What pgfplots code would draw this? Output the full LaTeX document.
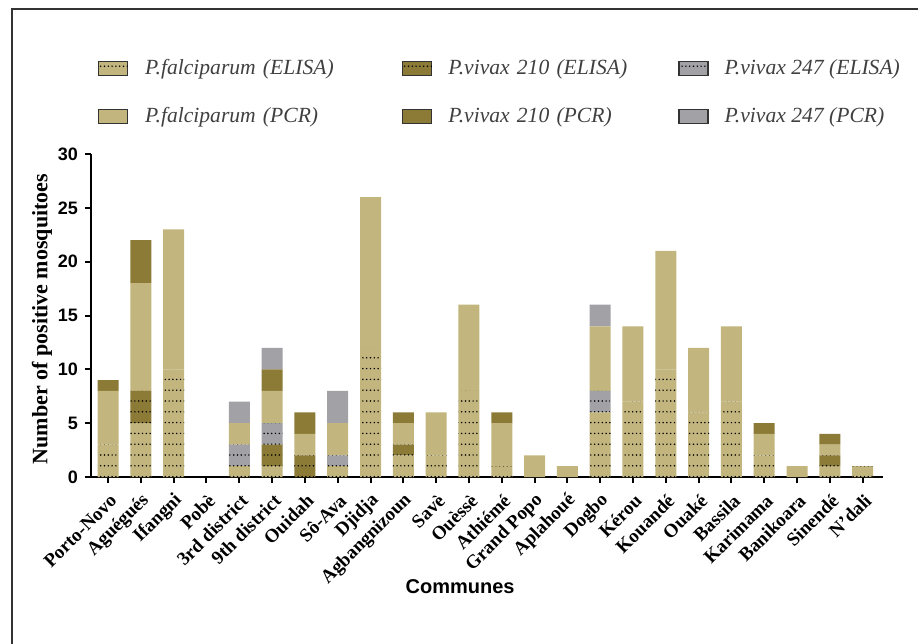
\documentclass[border=0pt]{standalone}
\usepackage{fontspec}
\setmainfont{Liberation Serif}
\setsansfont{Liberation Sans}
\usepackage{pgfplots}
\pgfplotsset{compat=1.18}
\usetikzlibrary{patterns}
\pgfdeclarepatternformonly{sparsedots}{\pgfqpoint{-0.5pt}{-0.5pt}}{\pgfqpoint{2.5pt}{5.9pt}}{\pgfqpoint{1.9pt}{5.4pt}}{\pgfpathcircle{\pgfqpoint{0.95pt}{2.7pt}}{0.42pt}\pgfusepath{fill}}
\definecolor{fcol}{RGB}{194,181,125}
\definecolor{v210}{RGB}{140,123,55}
\definecolor{v247}{RGB}{162,161,166}
\begin{document}
\begin{tikzpicture}
\path[use as bounding box] (0,0) rectangle (459pt,322pt);
\draw[line width=0.8pt, black!80] (6pt,0) -- (6pt,317.5pt) -- (459pt,317.5pt);
\begin{axis}[
  at={(45.5pt,83.5pt)}, anchor=south west,
  scale only axis, width=396pt, height=161.5pt,
  ybar stacked, bar width=0.64,
  xmin=-0.52, xmax=23.62, ymin=0, ymax=30,
  enlargelimits=false,
  axis x line*=bottom, axis y line*=left,
  axis line style={-, line width=1pt, black},
  tick style={black, line width=1pt},
  major tick length=3pt, tick align=outside,
  ytick={0,5,...,30},
  xtick={0,...,23},
  xticklabels={Porto-Novo, Aguégués, Ifangni, Pobè, 3rd district, 9th district, Ouidah, Sô-Ava, Djidja, Agbangnizoun, Savè, Ouèssè, Athiémé, Grand Popo, Aplahoué, Dogbo, Kérou, Kouandé, Ouaké, Bassila, Karimama, Banikoara, Sinendé, N'dali},
  xticklabel style={font=\bfseries\fontsize{9.5}{10}\selectfont, xshift=3.5pt, yshift=-6.5pt, rotate=45, anchor=east, inner sep=1pt},
  yticklabel style={font=\sffamily\bfseries\fontsize{9}{10}\selectfont},
  /pgf/number format/assume math mode=true,
  ylabel={Number of positive mosquitoes},
  ylabel style={font=\bfseries\fontsize{11}{12}\selectfont, at={(axis description cs:-0.062,0.489)}, anchor=center, rotate=0},
  xlabel={Communes},
  xlabel style={font=\sffamily\bfseries\fontsize{10}{12}\selectfont, at={(axis description cs:0.466,-0.34)}, anchor=center},
  legend columns=3,
  legend style={draw=none, fill=none, inner sep=0pt, outer sep=0pt,
    at={(axis description cs:0.0088,1.293)}, anchor=north west,
    font=\itshape\fontsize{10.8}{13}\selectfont, text=black!75,
    row sep=15pt, column sep=0pt,
    nodes={inner sep=0pt, anchor=west},
    /tikz/column 1/.style={column sep=8.5pt},
    /tikz/column 2/.style={nodes={text width=128.5pt}},
    /tikz/column 3/.style={column sep=8pt},
    /tikz/column 4/.style={nodes={text width=115pt}},
    /tikz/column 5/.style={column sep=8pt}},
  legend image code/.code={\draw[#1, draw=black!80, line width=0.6pt] (0pt,-3.5pt) rectangle (14.5pt,3.5pt);},
]
\addplot[fill=fcol, draw=none, postaction={pattern=sparsedots}] coordinates {(0,3) (1,5) (2,10) (3,0) (4,1) (5,1) (6,0) (7,1) (8,12) (9,2) (10,2) (11,8) (12,1) (13,0) (14,0) (15,6) (16,7) (17,10) (18,6) (19,7) (20,2) (21,0) (22,1) (23,1)};
\addlegendentry{P.falciparum (ELISA)}
\addplot[fill=v210, draw=none, postaction={pattern=sparsedots}] coordinates {(0,0) (1,3) (2,0) (3,0) (4,0) (5,2) (6,2) (7,0) (8,0) (9,1) (10,0) (11,0) (12,0) (13,0) (14,0) (15,0) (16,0) (17,0) (18,0) (19,0) (20,0) (21,0) (22,1) (23,0)};
\addlegendentry{P.vivax 210 (ELISA)}
\addplot[fill=v247, draw=none, postaction={pattern=sparsedots}] coordinates {(0,0) (1,0) (2,0) (3,0) (4,2) (5,2) (6,0) (7,1) (8,0) (9,0) (10,0) (11,0) (12,0) (13,0) (14,0) (15,2) (16,0) (17,0) (18,0) (19,0) (20,0) (21,0) (22,0) (23,0)};
\addlegendentry{P.vivax 247 (ELISA)}
\addplot[fill=fcol, draw=none] coordinates {(0,5) (1,10) (2,13) (3,0) (4,2) (5,3) (6,2) (7,3) (8,14) (9,2) (10,4) (11,8) (12,4) (13,2) (14,1) (15,6) (16,7) (17,11) (18,6) (19,7) (20,2) (21,1) (22,1) (23,0)};
\addlegendentry{P.falciparum (PCR)}
\addplot[fill=v210, draw=none] coordinates {(0,1) (1,4) (2,0) (3,0) (4,0) (5,2) (6,2) (7,0) (8,0) (9,1) (10,0) (11,0) (12,1) (13,0) (14,0) (15,0) (16,0) (17,0) (18,0) (19,0) (20,1) (21,0) (22,1) (23,0)};
\addlegendentry{P.vivax 210 (PCR)}
\addplot[fill=v247, draw=none] coordinates {(0,0) (1,0) (2,0) (3,0) (4,2) (5,2) (6,0) (7,3) (8,0) (9,0) (10,0) (11,0) (12,0) (13,0) (14,0) (15,2) (16,0) (17,0) (18,0) (19,0) (20,0) (21,0) (22,0) (23,0)};
\addlegendentry{P.vivax 247 (PCR)}
\end{axis}
\end{tikzpicture}
\end{document}
